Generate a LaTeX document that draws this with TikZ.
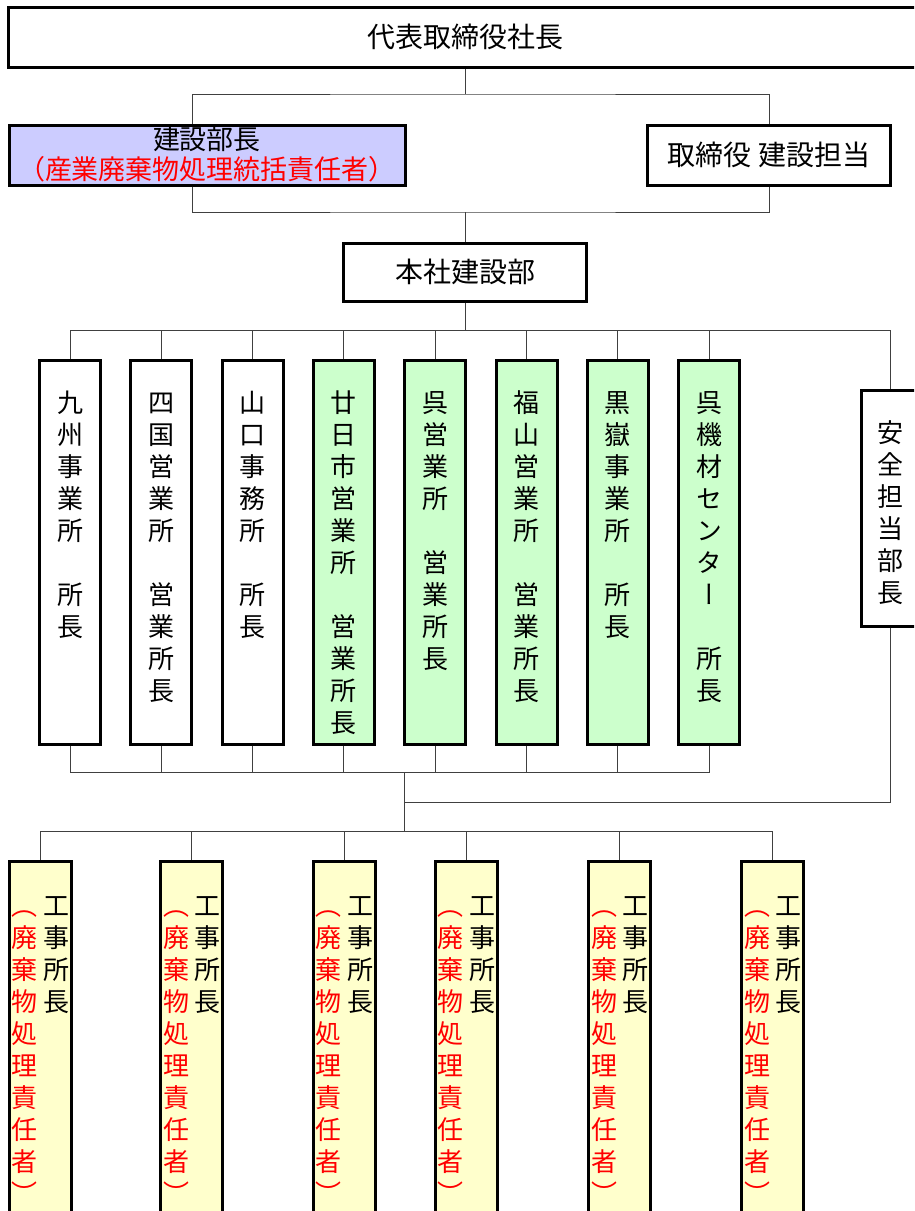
\documentclass[tikz,border=0pt]{standalone}
\usepackage{fontspec}
\setmainfont{Noto Sans CJK JP}
\newfontfamily\tatefont{Noto Sans CJK JP}[RawFeature=+vert]
\usetikzlibrary{calc}
\definecolor{lav}{HTML}{CCCCFF}
\definecolor{kgreen}{HTML}{CCFFCC}
\definecolor{kyellow}{HTML}{FFFFCC}
\definecolor{linegray}{HTML}{404040}

\begin{document}
\begin{tikzpicture}[x=1pt,y=-1pt,
	box/.style={draw=black,line width=3pt,inner sep=0pt,fill=white},
	conn/.style={draw=linegray,line width=1pt},
	yoko/.style={font=\fontsize{28}{30}\selectfont},
	tate/.style={font=\tatefont\fontsize{26}{32}\selectfont,align=center,anchor=north,inner sep=0pt}]
	\useasboundingbox (0,0) rectangle (914,1211);
	\clip (0,0) rectangle (914,1211);

	% top rows
	\node[box,yoko,minimum width=913pt,minimum height=60pt] (pres) at (465,37) {代表取締役社長};
	\node[box,fill=lav,minimum width=396pt,minimum height=60pt,align=center,
		font=\fontsize{27}{30}\selectfont] (bucho) at (207,155)
		{建設部長\\\textcolor{red}{（産業廃棄物処理統括責任者）}};
	\node[box,yoko,minimum width=243pt,minimum height=60pt] (tori) at (769,155) {取締役 建設担当};
	\node[box,yoko,minimum width=243pt,minimum height=58pt] (honsha) at (465,272) {本社建設部};

	% offices
	\foreach \i/\f/\t in {
		0/white/{九\\州\\事\\業\\所\\　\\所\\長},
		1/white/{四\\国\\営\\業\\所\\　\\営\\業\\所\\長},
		2/white/{山\\口\\事\\務\\所\\　\\所\\長},
		3/kgreen/{廿\\日\\市\\営\\業\\所\\　\\営\\業\\所\\長},
		4/kgreen/{呉\\営\\業\\所\\　\\営\\業\\所\\長},
		5/kgreen/{福\\山\\営\\業\\所\\　\\営\\業\\所\\長},
		6/kgreen/{黒\\嶽\\事\\業\\所\\　\\所\\長},
		7/kgreen/{呉\\機\\材\\セ\\ン\\タ\\ー\\　\\所\\長}}
	{
		\node[box,fill=\f,minimum width=61pt,minimum height=384pt] (col\i) at (70+91.3*\i,552) {};
		\node[tate] (colt\i) at ([yshift=-31.6pt]col\i.north) {\strut\t};
	}
	\node[box,minimum width=58pt,minimum height=236pt] (anzen) at (890,508) {};
	\node[tate] (anzent) at ([yshift=-31.6pt]anzen.north) {\strut 安\\全\\担\\当\\部\\長};

	% site managers
	\foreach \i/\x in {0/40,1/191.5,2/344,3/466,4/619.5,5/772.5}
	{
		\node[box,fill=kyellow,minimum width=62pt,minimum height=379pt] (koj\i) at (\x,1050.5) {};
		\node[tate] (kojt\i) at ([xshift=16pt,yshift=-33.6pt]koj\i.north) {\strut 工\\事\\所\\長};
		\node[tate,text=red] (kojr\i) at ([xshift=-15.5pt,yshift=-33.6pt]koj\i.north)
			{\strut ︵\\廃\\棄\\物\\処\\理\\責\\任\\者\\︶};
	}

	% connectors
	\coordinate (bus1) at (465,94);
	\coordinate (bus2) at (465,212);
	\coordinate (bus3) at (465,330.7);
	\coordinate (bus4) at (404,772);
	\coordinate (bus5) at (404,802);
	\coordinate (bus6) at (404,831);

	\draw[conn] (pres) -- (bus1);
	\draw[conn] ([xshift=-15pt]bucho.north) |- (bus1) -| (tori.north);
	\draw[conn] ([xshift=-15pt]bucho.south) |- (bus2) -| (tori.south);
	\draw[conn] (bus2) -- (honsha);
	\draw[conn] (honsha) -- (bus3);
	\draw[conn] (col0.north) |- (bus3) -| (anzen.north);
	\foreach \i in {1,...,7}
	\draw[conn] (col\i.north) -- (col\i.north |- bus3);
	\draw[conn] (col0.south) |- (col7.south |- bus4) -- (col7.south);
	\foreach \i in {1,...,6}
	\draw[conn] (col\i.south) -- (col\i.south |- bus4);
	\draw[conn] (bus4) -- (bus6);
	\draw[conn] (anzen.south) |- (bus5);
	\draw[conn] (koj0.north) |- (koj5.north |- bus6) -- (koj5.north);
	\foreach \i in {1,...,4}
	\draw[conn] (koj\i.north) -- (koj\i.north |- bus6);
\end{tikzpicture}
\end{document}
